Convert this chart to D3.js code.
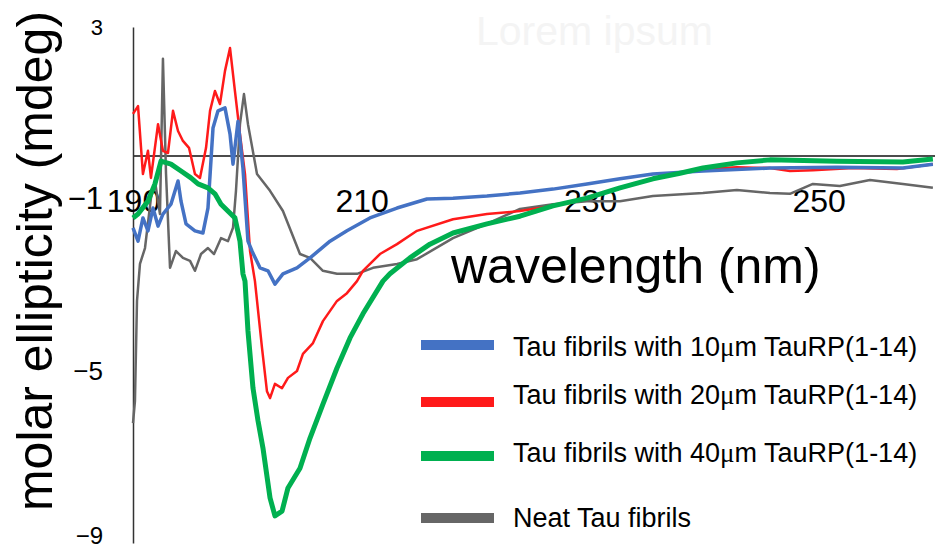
<!DOCTYPE html>
<html>
<head>
<meta charset="utf-8">
<script src="https://cdn.jsdelivr.net/npm/d3@7"></script>
<style>
  html, body { margin: 0; padding: 0; background: #fff; }
  svg { display: block; font-family: "Liberation Sans", Arial, sans-serif; }
</style>
</head>
<body>
<svg id="chart" width="950" height="551"></svg>
<script>
// ---- data (wavelength nm, ellipticity mdeg) ----
const blue10 = [
  [190.0,-1.67],[190.44,-1.98],[190.87,-1.44],[191.31,-1.74],[191.75,-1.21],[192.19,-1.63],
  [192.62,-1.35],[193.32,-1.12],[193.94,-0.58],[194.2,-1.05],[194.64,-1.58],[195.42,-1.74],
  [196.12,-1.79],[196.56,-1.21],[197.0,0.65],[197.44,1.05],[198.05,1.12],[198.49,0.51],
  [198.75,-0.19],[199.19,0.81],[199.62,-0.28],[200.06,-1.98],[200.41,-2.21],[201.11,-2.60],
  [201.81,-2.67],[202.42,-2.98],[203.12,-2.74],[204.35,-2.60],[205.49,-2.37],[207.24,-1.98],
  [208.72,-1.74],[210.73,-1.44],[213.1,-1.21],[215.72,-1.0],[218.0,-0.98],[220.97,-0.93],
  [223.86,-0.86],[226.75,-0.77],[229.72,-0.65],[232.61,-0.53],[235.49,-0.42],[239.87,-0.35],
  [245.73,-0.28],[251.59,-0.26],[257.37,-0.28],[259.99,-0.19]
];
const red20 = [
  [190.0,0.98],[190.44,1.16],[190.87,-0.42],[191.31,0.12],[191.57,-0.51],[192.19,0.74],
  [192.62,0.12],[193.06,0.07],[193.5,1.05],[193.94,0.58],[194.37,0.35],[194.9,0.19],
  [195.42,-0.42],[195.86,-0.51],[196.39,0.19],[196.74,1.05],[197.17,1.51],[197.61,1.21],
  [198.05,1.98],[198.49,2.51],[198.92,1.51],[199.36,0.51],[199.8,-0.42],[200.24,-2.21],
  [200.67,-2.91],[201.29,-4.47],[201.72,-5.47],[201.99,-5.63],[202.42,-5.30],[203.04,-5.40],
  [203.56,-5.16],[204.35,-5.0],[204.87,-4.60],[205.75,-4.35],[206.62,-3.84],[207.85,-3.37],
  [208.72,-3.19],[209.6,-2.91],[210.12,-2.67],[211.61,-2.28],[213.1,-2.05],[214.85,-1.74],
  [218.0,-1.47],[220.97,-1.35],[223.86,-1.28],[226.75,-1.16],[229.72,-0.98],[232.61,-0.74],
  [235.49,-0.53],[237.24,-0.42],[239.87,-0.30],[242.84,-0.26],[245.73,-0.28],[247.48,-0.35],
  [249.49,-0.33],[252.99,-0.28],[256.84,-0.30],[259.99,-0.19]
];
const green40 = [
  [190.0,-1.44],[190.44,-1.35],[191.31,-1.05],[191.92,-0.65],[192.45,-0.12],[193.32,-0.19],
  [194.2,-0.35],[195.07,-0.51],[195.69,-0.65],[196.56,-0.74],[197.17,-0.88],[197.7,-1.12],
  [198.57,-1.35],[198.92,-1.44],[199.36,-1.98],[199.62,-2.74],[199.8,-2.91],[200.06,-4.07],
  [200.5,-5.40],[200.94,-6.16],[201.37,-6.79],[201.99,-7.95],[202.42,-8.37],[203.04,-8.26],
  [203.56,-7.72],[204.61,-7.26],[205.49,-6.56],[206.62,-5.77],[207.85,-4.93],[208.99,-4.23],
  [210.12,-3.67],[211.87,-2.91],[212.48,-2.74],[214.23,-2.37],[215.98,-2.05],[218.0,-1.79],
  [220.97,-1.58],[223.86,-1.40],[226.75,-1.16],[229.72,-0.98],[232.61,-0.74],[235.49,-0.53],
  [237.86,-0.40],[239.87,-0.28],[242.84,-0.16],[245.73,-0.09],[251.59,-0.12],[257.37,-0.14],
  [259.99,-0.07]
];
const neat = [
  [190.0,-6.21],[190.17,-5.70],[190.35,-3.37],[190.61,-2.51],[191.05,-2.14],[191.57,-0.98],
  [191.92,-0.58],[192.19,-1.05],[192.36,-1.35],[192.62,2.26],[192.89,-0.42],[193.24,-2.60],
  [193.76,-2.21],[194.37,-2.37],[194.99,-2.44],[195.42,-2.67],[195.95,-2.28],[196.56,-2.14],
  [197.09,-2.28],[197.7,-1.91],[198.31,-1.98],[198.75,-1.67],[199.01,-0.81],[199.36,0.74],
  [199.71,1.44],[200.06,0.74],[200.41,0.23],[200.85,-0.42],[201.99,-0.81],[203.12,-1.28],
  [203.91,-1.81],[204.61,-2.28],[205.49,-2.37],[206.62,-2.67],[207.85,-2.74],[209.6,-2.74],
  [211.0,-2.60],[213.1,-2.51],[214.85,-2.40],[218.0,-1.91],[220.97,-1.58],[223.86,-1.23],
  [226.75,-1.12],[229.72,-1.05],[232.61,-1.05],[235.49,-0.93],[239.87,-0.86],[242.84,-0.79],
  [245.73,-0.86],[247.48,-0.88],[249.49,-0.65],[251.85,-0.70],[254.48,-0.56],[257.37,-0.65],
  [259.99,-0.74]
];
const xTicks = [190, 210, 230, 250];
const yTicks = [3, -1, -5, -9];
const seriesNames = [
  "Tau fibrils with 10\u03bcm TauRP(1-14)",
  "Tau fibrils with 20\u03bcm TauRP(1-14)",
  "Tau fibrils with 40\u03bcm TauRP(1-14)",
  "Neat Tau fibrils"
];
const seriesColors = ["#4472C4", "#FF1A1A", "#00B050", "#666666"];

// ---- drawing ----
const svg = d3.select("#chart");
const x = d3.scaleLinear().domain([190, 260]).range([133, 933]);
const y = d3.scaleLinear().domain([-9, 3]).range([543, 27]);

// faint title
svg.append("text").attr("x", 476).attr("y", 45)
  .attr("font-size", 41).attr("fill", "#f4f4f4").text("Lorem ipsum");

// zero line
svg.append("line").attr("x1", x(190)).attr("x2", 935)
  .attr("y1", y(0)).attr("y2", y(0)).attr("stroke", "#111").attr("stroke-width", 1.5);

// y axis
const yAxis = svg.append("g").attr("transform", `translate(${x(190)},0)`)
  .call(d3.axisLeft(y).tickValues(yTicks).tickSize(0).tickSizeOuter(0).tickPadding(30));
yAxis.select(".domain").attr("stroke", "#333").attr("stroke-width", 1.5);
yAxis.selectAll("text").attr("font-family", "Liberation Sans, Arial, sans-serif")
  .attr("fill", "#000")
  .attr("font-size", d => d === -1 ? 31 : (d === 3 ? 22 : (d === -9 ? 24 : 26)))
  .attr("dy", d => d === -9 ? "0em" : "0.32em");

// x axis labels (placed below zero line)
const xAxis = svg.append("g").attr("transform", `translate(0,${y(0)})`)
  .call(d3.axisBottom(x).tickValues(xTicks).tickSize(0).tickPadding(33));
xAxis.select(".domain").remove();
xAxis.selectAll("text").attr("font-family", "Liberation Sans, Arial, sans-serif")
  .attr("fill", "#000").attr("font-size", 32);

// lines
const line = d3.line().x(d => x(d[0])).y(d => y(d[1]));
const drawOrder = [
  {data: neat, color: seriesColors[3], w: 2.5},
  {data: red20, color: seriesColors[1], w: 2.5},
  {data: blue10, color: seriesColors[0], w: 3.5},
  {data: green40, color: seriesColors[2], w: 5}
];
drawOrder.forEach(s => {
  svg.append("path").datum(s.data).attr("d", line)
    .attr("fill", "none").attr("stroke", s.color).attr("stroke-width", s.w)
    .attr("stroke-linejoin", "round");
});

// axis titles
svg.append("text").attr("transform", "translate(52,261) rotate(-90)")
  .attr("text-anchor", "middle").attr("font-size", 50).attr("fill", "#000")
  .text("molar ellipticity (mdeg)");
svg.append("text").attr("x", 451).attr("y", 283)
  .attr("font-size", 50).attr("fill", "#000").text("wavelength (nm)");

// legend
const legendSwatchY = [345, 402, 456, 518];
const legendTextY = [347, 395, 453, 518];
const lg = svg.append("g");
seriesNames.forEach((name, i) => {
  lg.append("line").attr("x1", 421).attr("x2", 494)
    .attr("y1", legendSwatchY[i]).attr("y2", legendSwatchY[i])
    .attr("stroke", seriesColors[i]).attr("stroke-width", 10);
  const t = lg.append("text").attr("x", 513).attr("y", legendTextY[i])
    .attr("dy", "0.35em").attr("font-size", 27).attr("fill", "#000");
  const parts = name.split("\u03bc");
  t.append("tspan").text(parts[0]);
  if (parts.length > 1) {
    t.append("tspan").attr("font-family", "Liberation Serif, serif").text("\u03bc");
    t.append("tspan").text(parts[1]);
  }
});
</script>
</body>
</html>
